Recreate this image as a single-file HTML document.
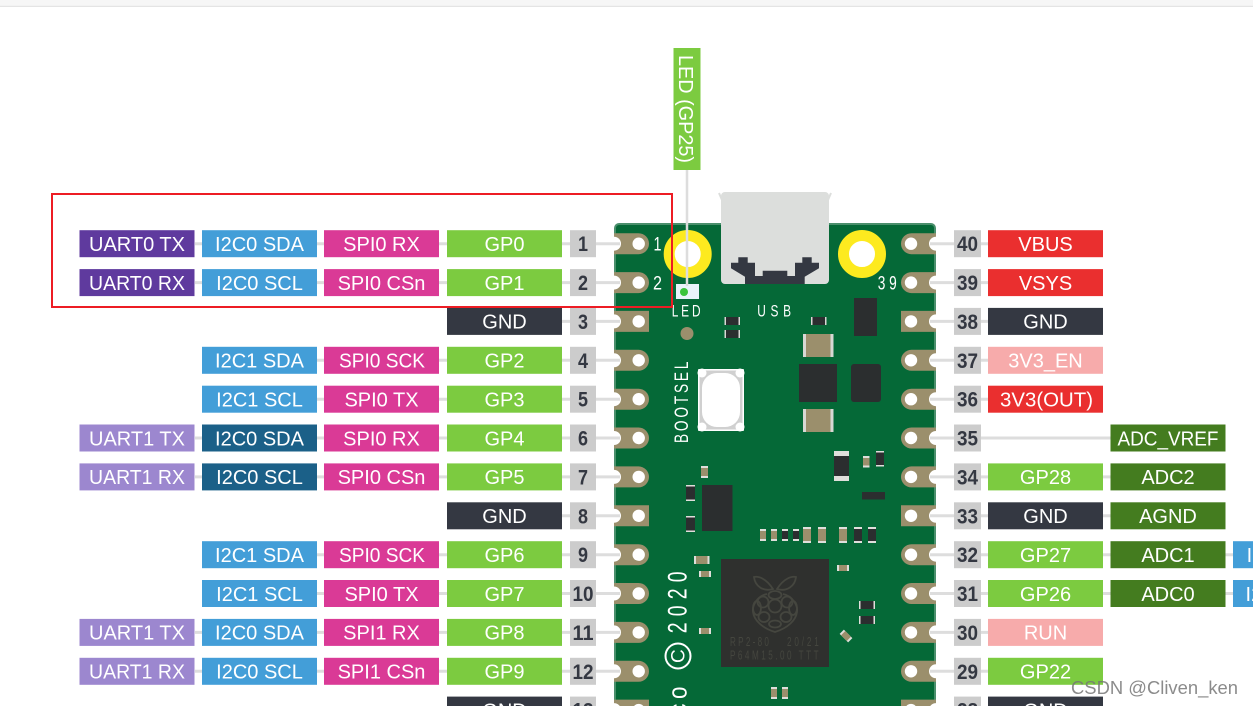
<!DOCTYPE html>
<html><head><meta charset="utf-8">
<style>
html,body{margin:0;padding:0;background:#fff;width:1253px;height:706px;overflow:hidden}
svg{display:block}
text{font-family:"Liberation Sans",sans-serif}
.t text{fill:#fff;font-size:20px;text-anchor:middle}
.n text{fill:#343842;font-size:21px;font-weight:bold;text-anchor:middle}
.l{stroke:#dddddd;stroke-width:3;fill:none}
.c1{x:79.5px;width:115px}.c2{x:202px;width:115px}.c3{x:324px;width:115px}.c4{x:447px;width:115px}.c5{x:570px;width:26px}
.c6{x:954px;width:27px}.c7{x:988px;width:115px}.c8{x:1110.5px;width:115px}.c9{x:1233px;width:115px}
rect.r{y:-13.5px;height:27px}
.pu{fill:#5f3a9e}.li{fill:#9c87cf}.bl{fill:#439ed8}.db{fill:#1b6088}.pk{fill:#da3a96}.gr{fill:#7ccb40}.dk{fill:#343842}
.nb{fill:#cccccc}.rd{fill:#ea2f2f}.lp{fill:#f7abab}.dg{fill:#447c1f}
.tan{fill:#9b8f6c}.blk{fill:#2b2e2f}
.s{fill:#fff}
.chip{fill:#45463f}
</style></head><body>
<svg width="1253" height="706" viewBox="0 0 1253 706" xmlns="http://www.w3.org/2000/svg">
<defs>
<g id="pl"><path d="M614-10.5H638.5A10.5 10.5 0 0 1 638.5 10.5H614Z" class="tan"/><circle cx="638.7" cy="0" r="6.2" fill="#fff"/><circle cx="614" cy="0" r="7" fill="#fff"/></g>
<g id="plg"><path d="M614-10.5H649V10.5H614Z" class="tan"/><circle cx="638.7" cy="0" r="6.2" fill="#fff"/><circle cx="614" cy="0" r="7" fill="#fff"/></g>
<g id="pr"><path d="M936-10.5H911.5A10.5 10.5 0 0 0 911.5 10.5H936Z" class="tan"/><circle cx="911" cy="0" r="6.2" fill="#fff"/><circle cx="936" cy="0" r="7" fill="#fff"/></g>
<g id="prg"><path d="M936-10.5H901V10.5H936Z" class="tan"/><circle cx="911" cy="0" r="6.2" fill="#fff"/><circle cx="936" cy="0" r="7" fill="#fff"/></g>
</defs>

<rect x="0" y="0" width="1253" height="5" fill="#f6f6f6"/>
<rect x="0" y="5.5" width="1253" height="1.5" fill="#e4e4e4"/>

<!-- board -->
<rect x="614" y="223" width="322" height="500" rx="5" fill="#4a8f6c"/>
<rect x="616" y="225" width="318" height="500" rx="3" fill="#056937"/>

<!-- pads -->
<use href="#pl" y="243.7"/><use href="#pl" y="282.6"/><use href="#plg" y="321.4"/><use href="#pl" y="360.3"/><use href="#pl" y="399.2"/><use href="#pl" y="438"/><use href="#pl" y="476.9"/><use href="#plg" y="515.8"/><use href="#pl" y="554.7"/><use href="#pl" y="593.5"/><use href="#pl" y="632.4"/><use href="#pl" y="671.3"/><use href="#plg" y="710.1"/>
<use href="#pr" y="243.7"/><use href="#pr" y="282.6"/><use href="#prg" y="321.4"/><use href="#pr" y="360.3"/><use href="#pr" y="399.2"/><use href="#pr" y="438"/><use href="#pr" y="476.9"/><use href="#prg" y="515.8"/><use href="#pr" y="554.7"/><use href="#pr" y="593.5"/><use href="#pr" y="632.4"/><use href="#pr" y="671.3"/><use href="#prg" y="710.1"/>

<!-- connector lines -->
<g class="l">
<path d="M195 243.7H620M195 282.6H620M562 321.4H620M317 360.3H620M317 399.2H620M195 438H620M195 476.9H620M562 515.8H620M317 554.7H620M317 593.5H620M195 632.4H620M195 671.3H620M562 710.1H620"/>
<path d="M930 243.7H988M930 282.6H988M930 321.4H988M930 360.3H988M930 399.2H988M930 438H1111M930 476.9H1111M930 515.8H1111M930 554.7H1233M930 593.5H1233M930 632.4H988M930 671.3H988M930 710.1H988"/>
</g>

<!-- mounting holes -->
<circle cx="687.7" cy="254" r="18.5" fill="#fff" stroke="#fdea1f" stroke-width="11"/>
<circle cx="862" cy="254" r="18.5" fill="#fff" stroke="#fdea1f" stroke-width="11"/>

<!-- USB -->
<path d="M719 193L722 200M831 193L828 200" stroke="#dcdedc" stroke-width="2"/>
<rect x="721" y="192" width="108" height="92" rx="4" fill="#dcdedc"/>
<path d="M738.3 257.3H747.7V262.7H755V276H762.7V270.7H787.3V276H795V262.7H802.3V257.3H811.7V262.7H819V268.3L804.7 276.7V284H745V276.7L731 268.3V262.7H738.3Z" fill="#343842"/>

<!-- LED -->
<rect x="676" y="284" width="23" height="15" fill="#e8f3fa"/>
<circle cx="684" cy="292" r="4" fill="#39c43c"/>
<path d="M687 170V286" stroke="#dddddd" stroke-width="2.5" fill="none"/>
<circle cx="687" cy="333.5" r="6.5" class="tan"/>

<!-- silk text -->
<text class="s" transform="translate(671.7,316.7) scale(.72,1)" font-size="16.5" letter-spacing="4">LED</text>
<text class="s" transform="translate(757.3,316.7) scale(.72,1)" font-size="16.5" letter-spacing="6.5">USB</text>
<text class="s" x="653.5" y="250.7" font-size="19" textLength="8" lengthAdjust="spacingAndGlyphs">1</text>
<text class="s" x="653" y="289.5" font-size="19" textLength="9" lengthAdjust="spacingAndGlyphs">2</text>
<text class="s" transform="translate(877.7,289.5) scale(.72,1)" font-size="19" letter-spacing="5.3">39</text>
<text class="s" transform="translate(688,443) rotate(-90) scale(.72,1)" font-size="19" letter-spacing="3.9">BOOTSEL</text>
<text class="s" transform="translate(686.7,633.3) rotate(-90) scale(.72,1)" font-size="27" letter-spacing="8.6">2020</text>
<text class="s" transform="translate(686.7,699) rotate(-90)" font-size="27" textLength="12.500" lengthAdjust="spacingAndGlyphs">o</text>
<text class="s" transform="translate(686.7,716) rotate(-90)" font-size="27" textLength="12.500" lengthAdjust="spacingAndGlyphs">c</text>
<circle cx="678" cy="656" r="12.5" fill="none" stroke="#fff" stroke-width="2"/>
<text class="s" transform="translate(684.5,663) rotate(-90)" font-size="19">C</text>

<!-- components -->
<g>
<rect x="724.5" y="317" width="15.5" height="8" fill="#d8d8d4"/><rect x="726" y="317" width="12.5" height="8" class="blk"/>
<rect x="724.5" y="330" width="15.5" height="8" fill="#d8d8d4"/><rect x="726" y="330" width="12.5" height="8" class="blk"/>
<rect x="811" y="317" width="15.5" height="8" fill="#d8d8d4"/><rect x="812.5" y="317" width="12.5" height="8" class="blk"/>
<rect x="854" y="298" width="23" height="38" class="blk"/>
<rect x="803" y="334" width="30.5" height="23" fill="#d8d8d4"/><rect x="806" y="334" width="24.5" height="23" class="tan"/>
<rect x="803" y="409" width="30.5" height="23" fill="#d8d8d4"/><rect x="806" y="409" width="24.5" height="23" class="tan"/>
<rect x="799" y="364" width="38" height="38" class="blk"/>
<rect x="851" y="364" width="30" height="38" rx="3" class="blk"/>

<rect x="698" y="369" width="46" height="62" rx="1" fill="#fff"/>
<rect x="699.5" y="370.5" width="43" height="59" fill="#d0d0d0"/>
<rect x="702" y="373" width="38" height="54" rx="15" fill="#fff"/>
<circle cx="702" cy="373" r="4.5" fill="#fff"/><circle cx="740" cy="373" r="4.5" fill="#fff"/><circle cx="702" cy="427" r="4.5" fill="#fff"/><circle cx="740" cy="427" r="4.5" fill="#fff"/>

<rect x="834" y="451" width="15" height="30" fill="#dfdfdb"/><rect x="834" y="456" width="15" height="20" class="blk"/>
<rect x="863" y="456" width="6.5" height="11.5" fill="#dfdfdb"/><rect x="863" y="458" width="6.5" height="7.5" class="tan"/>
<rect x="876" y="451" width="8" height="15.5" fill="#dfdfdb"/><rect x="876" y="452.5" width="8" height="12.5" class="blk"/>
<rect x="862" y="492" width="23" height="7.5" class="blk"/>
<rect x="701" y="466" width="7" height="12" fill="#dfdfdb"/><rect x="701" y="468" width="7" height="8" class="tan"/>
<rect x="686" y="485" width="9" height="16" fill="#dfdfdb"/><rect x="686" y="486.5" width="9" height="13" class="blk"/>
<rect x="686" y="516" width="9" height="16" fill="#dfdfdb"/><rect x="686" y="517.5" width="9" height="13" class="blk"/>
<rect x="702" y="485" width="30.5" height="46" class="blk"/>

<rect x="760" y="529" width="6" height="12" fill="#dfdfdb"/><rect x="760" y="531" width="6" height="8" class="tan"/>
<rect x="771" y="529" width="6" height="12" fill="#dfdfdb"/><rect x="771" y="531" width="6" height="8" class="tan"/>
<rect x="782" y="529" width="6" height="12" fill="#dfdfdb"/><rect x="782" y="531" width="6" height="8" class="blk"/>
<rect x="793" y="529" width="6" height="12" fill="#dfdfdb"/><rect x="793" y="531" width="6" height="8" class="blk"/>
<rect x="803" y="527" width="8" height="16" fill="#dfdfdb"/><rect x="803" y="529" width="8" height="12" class="tan"/>
<rect x="818" y="527" width="8" height="16" fill="#dfdfdb"/><rect x="818" y="529" width="8" height="12" class="tan"/>
<rect x="839" y="527" width="8" height="16" fill="#dfdfdb"/><rect x="839" y="529" width="8" height="12" class="tan"/>
<rect x="854" y="527" width="8" height="16" fill="#dfdfdb"/><rect x="854" y="529" width="8" height="12" class="blk"/>
<rect x="868" y="527" width="8" height="16" fill="#dfdfdb"/><rect x="868" y="529" width="8" height="12" class="blk"/>

<rect x="694" y="556" width="15.5" height="8" fill="#dfdfdb"/><rect x="696" y="556" width="11.5" height="8" class="tan"/>
<rect x="699" y="571" width="12" height="6" fill="#dfdfdb"/><rect x="701" y="571" width="8" height="6" class="tan"/>
<rect x="699" y="628" width="12" height="6" fill="#dfdfdb"/><rect x="701" y="628" width="8" height="6" class="tan"/>
<rect x="837" y="565" width="12" height="6" fill="#dfdfdb"/><rect x="839" y="565" width="8" height="6" class="tan"/>
<rect x="859" y="601" width="16" height="8" fill="#dfdfdb"/><rect x="860.5" y="601" width="13" height="8" class="blk"/>
<rect x="859" y="616" width="16" height="8" fill="#dfdfdb"/><rect x="860.5" y="616" width="13" height="8" class="blk"/>
<g transform="rotate(45 846 636)"><rect x="840" y="633" width="12" height="6" fill="#dfdfdb"/><rect x="842" y="633" width="8" height="6" class="tan"/></g>
<rect x="771" y="687" width="6" height="12" fill="#dfdfdb"/><rect x="771" y="689" width="6" height="8" class="tan"/>
<rect x="782" y="687" width="6" height="12" fill="#dfdfdb"/><rect x="782" y="689" width="6" height="8" class="tan"/>
</g>

<!-- RP2040 -->
<rect x="721" y="559" width="108" height="108" fill="#2f302e"/>
<g fill="none" stroke="#45463f" stroke-width="1.8">
<path d="M773 589C766 578 758 576 754 577C755 586 763 592 773 589Z"/>
<path d="M777 589C784 578 792 576 796 577C795 586 787 592 777 589Z"/>
<ellipse cx="775" cy="595" rx="6.5" ry="4"/>
<circle cx="775" cy="606" r="6.5"/>
<circle cx="763" cy="602" r="5.5"/><circle cx="787" cy="602" r="5.5"/>
<ellipse cx="757" cy="608" rx="4" ry="7"/><ellipse cx="793" cy="608" rx="4" ry="7"/>
<ellipse cx="764" cy="617" rx="5.5" ry="5"/><ellipse cx="786" cy="617" rx="5.5" ry="5"/>
<ellipse cx="775" cy="624" rx="6" ry="3.5"/>
<path d="M767 594C757 596 752 606 753 612C754 620 762 628 775 632C788 628 796 620 797 612C798 606 793 596 783 594"/>
</g>
<text class="chip" transform="translate(730,646) scale(.65,1)" font-size="12.5" letter-spacing="3.5">RP2-80</text>
<text class="chip" transform="translate(787,646) scale(.65,1)" font-size="12.5" letter-spacing="4.4">20/21</text>
<text class="chip" transform="translate(730,659.5) scale(.65,1)" font-size="12.5" letter-spacing="3.85">P64M15.00 TTT</text>

<!-- LED label -->
<rect x="673.5" y="48" width="27" height="122" class="gr"/>
<text class="s" transform="translate(679,55) rotate(90)" font-size="20" textLength="108" lengthAdjust="spacingAndGlyphs">LED (GP25)</text>

<!-- left rows -->
<g transform="translate(0,243.7)"><rect class="r c1 pu"/><rect class="r c2 bl"/><rect class="r c3 pk"/><rect class="r c4 gr"/><rect class="r c5 nb"/><g class="t"><text x="137" y="7.3">UART0 TX</text><text x="259.5" y="7.3">I2C0 SDA</text><text x="381.5" y="7.3">SPI0 RX</text><text x="504.5" y="7.3">GP0</text></g><g class="n"><text x="583" y="7.5" textLength="10" lengthAdjust="spacingAndGlyphs">1</text></g></g>
<g transform="translate(0,282.6)"><rect class="r c1 pu"/><rect class="r c2 bl"/><rect class="r c3 pk"/><rect class="r c4 gr"/><rect class="r c5 nb"/><g class="t"><text x="137" y="7.3" textLength="96" lengthAdjust="spacingAndGlyphs">UART0 RX</text><text x="259.5" y="7.3">I2C0 SCL</text><text x="381.5" y="7.3">SPI0 CSn</text><text x="504.5" y="7.3">GP1</text></g><g class="n"><text x="583" y="7.5" textLength="10" lengthAdjust="spacingAndGlyphs">2</text></g></g>
<g transform="translate(0,321.4)"><rect class="r c4 dk"/><rect class="r c5 nb"/><g class="t"><text x="504.5" y="7.3">GND</text></g><g class="n"><text x="583" y="7.5" textLength="10" lengthAdjust="spacingAndGlyphs">3</text></g></g>
<g transform="translate(0,360.3)"><rect class="r c2 bl"/><rect class="r c3 pk"/><rect class="r c4 gr"/><rect class="r c5 nb"/><g class="t"><text x="259.5" y="7.3">I2C1 SDA</text><text x="382" y="7.3" textLength="86" lengthAdjust="spacingAndGlyphs">SPI0 SCK</text><text x="504.5" y="7.3">GP2</text></g><g class="n"><text x="583" y="7.5" textLength="10" lengthAdjust="spacingAndGlyphs">4</text></g></g>
<g transform="translate(0,399.2)"><rect class="r c2 bl"/><rect class="r c3 pk"/><rect class="r c4 gr"/><rect class="r c5 nb"/><g class="t"><text x="259.5" y="7.3">I2C1 SCL</text><text x="381.5" y="7.3">SPI0 TX</text><text x="504.5" y="7.3">GP3</text></g><g class="n"><text x="583" y="7.5" textLength="10" lengthAdjust="spacingAndGlyphs">5</text></g></g>
<g transform="translate(0,438)"><rect class="r c1 li"/><rect class="r c2 db"/><rect class="r c3 pk"/><rect class="r c4 gr"/><rect class="r c5 nb"/><g class="t"><text x="137" y="7.3">UART1 TX</text><text x="259.5" y="7.3">I2C0 SDA</text><text x="381.5" y="7.3">SPI0 RX</text><text x="504.5" y="7.3">GP4</text></g><g class="n"><text x="583" y="7.5" textLength="10" lengthAdjust="spacingAndGlyphs">6</text></g></g>
<g transform="translate(0,476.9)"><rect class="r c1 li"/><rect class="r c2 db"/><rect class="r c3 pk"/><rect class="r c4 gr"/><rect class="r c5 nb"/><g class="t"><text x="137" y="7.3" textLength="96" lengthAdjust="spacingAndGlyphs">UART1 RX</text><text x="259.5" y="7.3">I2C0 SCL</text><text x="381.5" y="7.3">SPI0 CSn</text><text x="504.5" y="7.3">GP5</text></g><g class="n"><text x="583" y="7.5" textLength="10" lengthAdjust="spacingAndGlyphs">7</text></g></g>
<g transform="translate(0,515.8)"><rect class="r c4 dk"/><rect class="r c5 nb"/><g class="t"><text x="504.5" y="7.3">GND</text></g><g class="n"><text x="583" y="7.5" textLength="10" lengthAdjust="spacingAndGlyphs">8</text></g></g>
<g transform="translate(0,554.7)"><rect class="r c2 bl"/><rect class="r c3 pk"/><rect class="r c4 gr"/><rect class="r c5 nb"/><g class="t"><text x="259.5" y="7.3">I2C1 SDA</text><text x="382" y="7.3" textLength="86" lengthAdjust="spacingAndGlyphs">SPI0 SCK</text><text x="504.5" y="7.3">GP6</text></g><g class="n"><text x="583" y="7.5" textLength="10" lengthAdjust="spacingAndGlyphs">9</text></g></g>
<g transform="translate(0,593.5)"><rect class="r c2 bl"/><rect class="r c3 pk"/><rect class="r c4 gr"/><rect class="r c5 nb"/><g class="t"><text x="259.5" y="7.3">I2C1 SCL</text><text x="381.5" y="7.3">SPI0 TX</text><text x="504.5" y="7.3">GP7</text></g><g class="n"><text x="583" y="7.5" textLength="21" lengthAdjust="spacingAndGlyphs">10</text></g></g>
<g transform="translate(0,632.4)"><rect class="r c1 li"/><rect class="r c2 bl"/><rect class="r c3 pk"/><rect class="r c4 gr"/><rect class="r c5 nb"/><g class="t"><text x="137" y="7.3">UART1 TX</text><text x="259.5" y="7.3">I2C0 SDA</text><text x="381.5" y="7.3">SPI1 RX</text><text x="504.5" y="7.3">GP8</text></g><g class="n"><text x="583" y="7.5" textLength="21" lengthAdjust="spacingAndGlyphs">11</text></g></g>
<g transform="translate(0,671.3)"><rect class="r c1 li"/><rect class="r c2 bl"/><rect class="r c3 pk"/><rect class="r c4 gr"/><rect class="r c5 nb"/><g class="t"><text x="137" y="7.3" textLength="96" lengthAdjust="spacingAndGlyphs">UART1 RX</text><text x="259.5" y="7.3">I2C0 SCL</text><text x="381.5" y="7.3">SPI1 CSn</text><text x="504.5" y="7.3">GP9</text></g><g class="n"><text x="583" y="7.5" textLength="21" lengthAdjust="spacingAndGlyphs">12</text></g></g>
<g transform="translate(0,710.1)"><rect class="r c4 dk"/><rect class="r c5 nb"/><g class="t"><text x="504.5" y="7.3">GND</text></g><g class="n"><text x="583" y="7.5" textLength="21" lengthAdjust="spacingAndGlyphs">13</text></g></g>

<!-- right rows -->
<g transform="translate(0,243.7)"><rect class="r c6 nb"/><rect class="r c7 rd"/><g class="n"><text x="967.5" y="7.5" textLength="21" lengthAdjust="spacingAndGlyphs">40</text></g><g class="t"><text x="1045.5" y="7.3">VBUS</text></g></g>
<g transform="translate(0,282.6)"><rect class="r c6 nb"/><rect class="r c7 rd"/><g class="n"><text x="967.5" y="7.5" textLength="21" lengthAdjust="spacingAndGlyphs">39</text></g><g class="t"><text x="1045.5" y="7.3">VSYS</text></g></g>
<g transform="translate(0,321.4)"><rect class="r c6 nb"/><rect class="r c7 dk"/><g class="n"><text x="967.5" y="7.5" textLength="21" lengthAdjust="spacingAndGlyphs">38</text></g><g class="t"><text x="1045.5" y="7.3">GND</text></g></g>
<g transform="translate(0,360.3)"><rect class="r c6 nb"/><rect class="r c7 lp"/><g class="n"><text x="967.5" y="7.5" textLength="21" lengthAdjust="spacingAndGlyphs">37</text></g><g class="t"><text x="1045.5" y="7.3">3V3_EN</text></g></g>
<g transform="translate(0,399.2)"><rect class="r c6 nb"/><rect class="r c7 rd"/><g class="n"><text x="967.5" y="7.5" textLength="21" lengthAdjust="spacingAndGlyphs">36</text></g><g class="t"><text x="1046.5" y="7.3" textLength="93" lengthAdjust="spacingAndGlyphs">3V3(OUT)</text></g></g>
<g transform="translate(0,438)"><rect class="r c6 nb"/><rect class="r c8 dg"/><g class="n"><text x="967.5" y="7.5" textLength="21" lengthAdjust="spacingAndGlyphs">35</text></g><g class="t"><text x="1168" y="7.3" textLength="101" lengthAdjust="spacingAndGlyphs">ADC_VREF</text></g></g>
<g transform="translate(0,476.9)"><rect class="r c6 nb"/><rect class="r c7 gr"/><rect class="r c8 dg"/><g class="n"><text x="967.5" y="7.5" textLength="21" lengthAdjust="spacingAndGlyphs">34</text></g><g class="t"><text x="1045.5" y="7.3">GP28</text><text x="1168" y="7.3">ADC2</text></g></g>
<g transform="translate(0,515.8)"><rect class="r c6 nb"/><rect class="r c7 dk"/><rect class="r c8 dg"/><g class="n"><text x="967.5" y="7.5" textLength="21" lengthAdjust="spacingAndGlyphs">33</text></g><g class="t"><text x="1045.5" y="7.3">GND</text><text x="1168" y="7.3">AGND</text></g></g>
<g transform="translate(0,554.7)"><rect class="r c6 nb"/><rect class="r c7 gr"/><rect class="r c8 dg"/><rect class="r c9 bl"/><g class="n"><text x="967.5" y="7.5" textLength="21" lengthAdjust="spacingAndGlyphs">32</text></g><g class="t"><text x="1045.5" y="7.3">GP27</text><text x="1168" y="7.3">ADC1</text><text x="1290" y="7.3">I2C1 SCL</text></g></g>
<g transform="translate(0,593.5)"><rect class="r c6 nb"/><rect class="r c7 gr"/><rect class="r c8 dg"/><rect class="r c9 bl"/><g class="n"><text x="967.5" y="7.5" textLength="21" lengthAdjust="spacingAndGlyphs">31</text></g><g class="t"><text x="1045.5" y="7.3">GP26</text><text x="1168" y="7.3">ADC0</text><text x="1290" y="7.3">I2C1 SDA</text></g></g>
<g transform="translate(0,632.4)"><rect class="r c6 nb"/><rect class="r c7 lp"/><g class="n"><text x="967.5" y="7.5" textLength="21" lengthAdjust="spacingAndGlyphs">30</text></g><g class="t"><text x="1045.5" y="7.3">RUN</text></g></g>
<g transform="translate(0,671.3)"><rect class="r c6 nb"/><rect class="r c7 gr"/><g class="n"><text x="967.5" y="7.5" textLength="21" lengthAdjust="spacingAndGlyphs">29</text></g><g class="t"><text x="1045.5" y="7.3">GP22</text></g></g>
<g transform="translate(0,710.1)"><rect class="r c6 nb"/><rect class="r c7 dk"/><g class="n"><text x="967.5" y="7.5" textLength="21" lengthAdjust="spacingAndGlyphs">28</text></g><g class="t"><text x="1045.5" y="7.3">GND</text></g></g>

<!-- annotation -->
<rect x="52" y="194" width="620" height="113" fill="none" stroke="#ed1c24" stroke-width="2"/>

<!-- watermark -->
<text x="1071" y="694" font-size="18.5" textLength="167" lengthAdjust="spacingAndGlyphs" fill="#777" fill-opacity=".85">CSDN @Cliven_ken</text>
</svg>
</body></html>
